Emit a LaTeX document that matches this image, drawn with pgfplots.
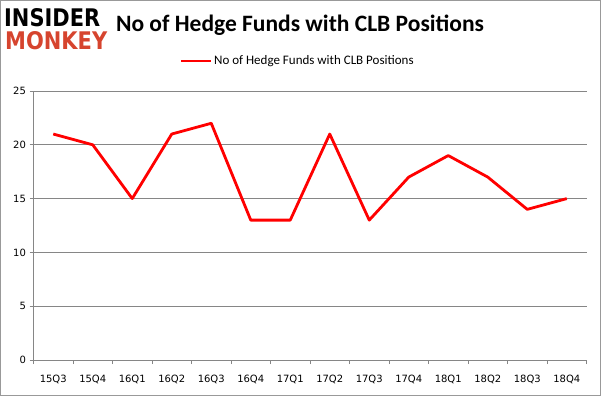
\documentclass[border=0pt]{standalone}
\usepackage{pgfplots}
\pgfplotsset{compat=1.18}
\usepackage{fontspec}
\usepackage{graphicx}
\setmainfont{Carlito}
\newfontfamily\tickfont{DejaVu Sans}
\newfontfamily\logofont{DejaVu Sans}
\definecolor{monkeyred}{RGB}{214,68,46}
\definecolor{gridgray}{RGB}{134,134,134}
\begin{document}
\begin{tikzpicture}[x=1pt,y=1pt]
\draw[gray!80, line width=1.2pt] (0.6,0.6) rectangle (600.4,395.4);
\node[anchor=north west, inner sep=0pt] at (4,388) {\resizebox{96pt}{18pt}{\logofont\bfseries INSIDER}};
\node[anchor=north west, inner sep=0pt] at (5,365) {\resizebox{102pt}{18pt}{\logofont\bfseries\color{monkeyred} MONKEY}};
\node[anchor=center, inner sep=0pt] at (300,371) {\fontsize{23.5}{26}\selectfont\bfseries No of Hedge Funds with CLB Positions};
\draw[red, line width=2.8pt] (181,335) -- (211,335);
\node[anchor=west, inner sep=0pt] at (214,335) {\fontsize{13}{15}\selectfont No of Hedge Funds with CLB Positions};
\begin{axis}[
  at={(33.5pt,36pt)}, anchor=south west,
  scale only axis, width=553pt, height=269pt,
  xmin=-0.5, xmax=13.5, ymin=0, ymax=25,
  axis x line*=bottom, axis y line*=left,
  axis line style={gridgray, line width=0.6pt},
  xtick={0,...,13},
  xticklabels={15Q3,15Q4,16Q1,16Q2,16Q3,16Q4,17Q1,17Q2,17Q3,17Q4,18Q1,18Q2,18Q3,18Q4},
  minor xtick={-0.5,0.5,...,13.5},
  ytick={0,5,...,25},
  ymajorgrids, major grid style={gridgray, line width=0.6pt},
  tick style={gridgray, line width=0.6pt},
  major x tick style={draw=none},
  minor tick length=4pt, major tick length=4pt,
  tick align=outside,
  ticklabel style={font=\tickfont\fontsize{10}{12}\selectfont},
  xticklabel style={yshift=-8pt},
  /pgf/number format/assume math mode=true,
  clip=false,
]
\addplot[red, line width=2.8pt, line join=round] coordinates {
(0,21) (1,20) (2,15) (3,21) (4,22) (5,13) (6,13) (7,21) (8,13) (9,17) (10,19) (11,17) (12,14) (13,15)
};
\end{axis}
\end{tikzpicture}
\end{document}
